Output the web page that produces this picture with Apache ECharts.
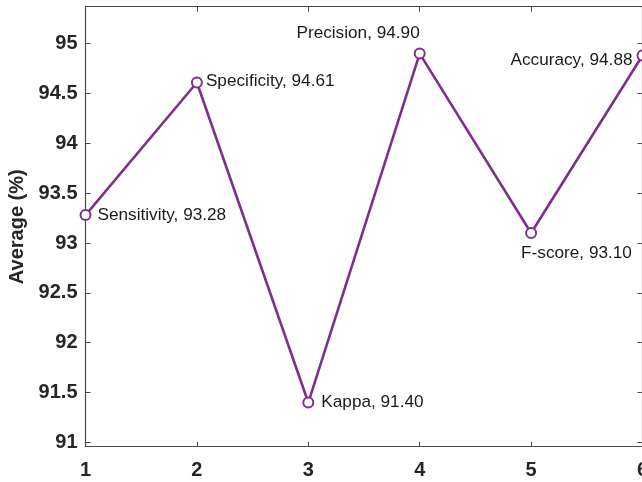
<!DOCTYPE html>
<html>
<head>
<meta charset="utf-8">
<script src="https://cdn.jsdelivr.net/npm/echarts@6/dist/echarts.min.js"></script>
<style>html,body{margin:0;padding:0;background:#fff}#c{width:642px;height:482px}</style>
</head>
<body>
<div id="c"></div>
<script>
var metricNames = ['Sensitivity', 'Specificity', 'Kappa', 'Precision', 'F-score', 'Accuracy'];
var xPositions = [1, 2, 3, 4, 5, 6];
var averages = [93.28, 94.61, 91.40, 94.90, 93.10, 94.88];
var yTickValues = [91, 91.5, 92, 92.5, 93, 93.5, 94, 94.5, 95];
var xTickValues = [1, 2, 3, 4, 5, 6];

var FONT = '"Liberation Sans", Arial, Helvetica, sans-serif';
var AXIS_COLOR = '#4a4a4a';
var LABEL_COLOR = '#262626';
var PURPLE = '#7E2F8E';

var labelPlacement = [
  {position: 'right', distance: 6, offset: [0, 0]},
  {position: 'right', distance: 3, offset: [0, -1]},
  {position: 'right', distance: 7, offset: [0, 0]},
  {position: 'top', distance: 6, align: 'right', offset: [0, 0]},
  {position: 'bottom', distance: 6, align: 'left', offset: [-10, 0]},
  {position: 'left', distance: 4, offset: [0, 5]}
];

var seriesData = averages.map(function (v, i) {
  var p = labelPlacement[i];
  var lab = {
    show: true,
    position: p.position,
    distance: p.distance,
    offset: p.offset,
    color: '#1a1a1a',
    fontSize: 17.2,
    fontFamily: FONT,
    formatter: metricNames[i] + ', ' + v.toFixed(2)
  };
  if (p.align) lab.align = p.align;
  return {value: [xPositions[i], v], label: lab};
});

function boxAxis(pos, isX, showLabels) {
  var ax = {
    type: 'value',
    position: pos,
    min: isX ? 1 : 90.957,
    max: isX ? 6 : 95.37,
    splitLine: {show: false},
    axisLine: {show: true, onZero: false, lineStyle: {color: AXIS_COLOR, width: 1.2}},
    axisTick: {show: true, inside: true, length: 5, lineStyle: {color: AXIS_COLOR, width: 1}},
    axisLabel: {show: showLabels, color: LABEL_COLOR, fontSize: 20, fontWeight: 'bold', fontFamily: FONT, margin: isX ? 14 : 8, hideOverlap: false}
  };
  if (isX) {
    ax.interval = 1;
  } else {
    ax.axisTick.customValues = yTickValues;
    ax.axisLabel.customValues = yTickValues;
  }
  return ax;
}

var xMain = boxAxis('bottom', true, true);
var xTop = boxAxis('top', true, false);
var yMain = boxAxis('left', false, true);
yMain.name = 'Average (%)';
yMain.nameLocation = 'middle';
yMain.nameGap = 51;
yMain.nameTextStyle = {color: LABEL_COLOR, fontSize: 20, fontWeight: 'bold', fontFamily: FONT};
var yRight = boxAxis('right', false, false);

var chart = echarts.init(document.getElementById('c'), null, {renderer: 'canvas'});
chart.setOption({
  animation: false,
  backgroundColor: '#ffffff',
  grid: {left: 85.5, top: 6.7, width: 557, height: 440, containLabel: false, outerBoundsMode: 'none'},
  xAxis: [xMain, xTop],
  yAxis: [yMain, yRight],
  series: [{
    type: 'line',
    xAxisIndex: 0,
    yAxisIndex: 0,
    data: seriesData,
    symbol: 'emptyCircle',
    symbolSize: 10,
    showAllSymbol: true,
    clip: false,
    lineStyle: {color: PURPLE, width: 2.6},
    itemStyle: {color: PURPLE, borderColor: PURPLE, borderWidth: 2.4}
  }]
});
</script>
</body>
</html>
